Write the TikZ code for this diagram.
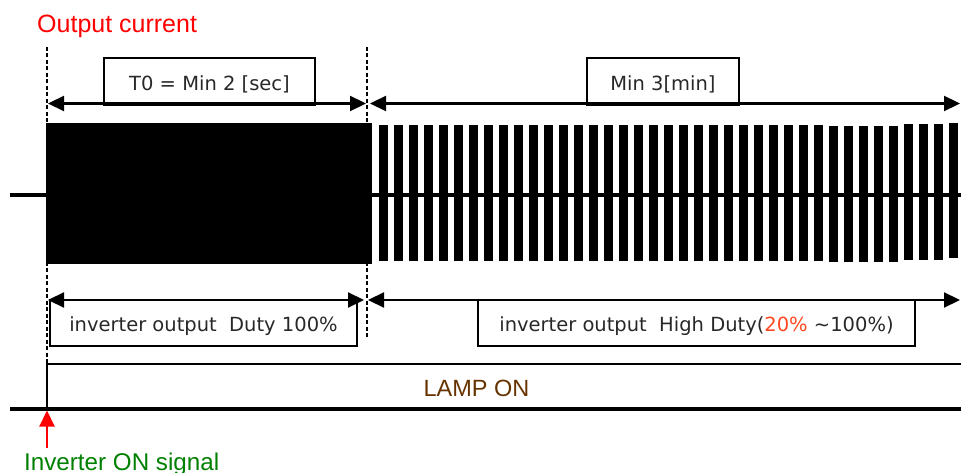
\documentclass[tikz,border=0pt]{standalone}
\usepackage{fontspec}
\setmainfont{Liberation Sans}
\newfontfamily\boxfont{DejaVu Sans}
\usetikzlibrary{arrows.meta}
\definecolor{outred}{RGB}{255,0,0}
\definecolor{sigGreen}{RGB}{0,128,0}
\definecolor{lampbrown}{RGB}{102,51,0}
\definecolor{pctred}{RGB}{255,72,32}
\definecolor{boxtext}{RGB}{40,40,40}
\begin{document}
\begin{tikzpicture}[x=1pt,y=-1pt,
  dimline/.style={line width=2.2pt,{Triangle[length=16pt,width=15pt]}-{Triangle[length=16pt,width=15pt]}},
  guide/.style={line width=1.3pt,dash pattern=on 4pt off 2.5pt},
  lbox/.style={draw,line width=1.7pt,inner sep=0pt,text height=17.5pt,text depth=0pt,
    font=\boxfont\fontsize{19.5}{23}\selectfont,text=boxtext},
  bigtext/.style={inner sep=0pt,font=\fontsize{23.5}{28}\selectfont},
  wave/.style={fill=black}
]
\useasboundingbox (0,0) rectangle (961,473);

% guide coordinates
\coordinate (g1top) at (47,47);
\coordinate (g1bot) at (47,364);
\coordinate (g2top) at (367,47);
\coordinate (g2bot) at (367,338);

% dimension arrow end points
\coordinate (a1l) at (48,103.5);
\coordinate (a1r) at (366,103.5);
\coordinate (a2l) at (370,103.5);
\coordinate (a2r) at (960,103.5);
\coordinate (b1l) at (48,300);
\coordinate (b1r) at (364,300);
\coordinate (b2l) at (368,300);
\coordinate (b2r) at (960,300);

% title
\node[bigtext,font=\fontsize{25}{30}\selectfont,text=outred,anchor=base west] (title) at (37,33) {Output current};

% dashed guides
\draw[guide] (g1top) -- (g1bot);
\draw[guide] (g2top) -- (g2bot);

% top dimension arrows
\draw[dimline] (a1l) -- (a1r);
\draw[dimline] (a2l) -- (a2r);
\node[lbox,minimum width=211pt,minimum height=47pt] (t0box) at (209.5,81.7) {T0 = Min 2 [sec]};
\node[lbox,minimum width=152pt,minimum height=47pt] (minbox) at (663,81.7) {Min 3[min]};

% waveform
\coordinate (axl) at (10,195);
\coordinate (axr) at (961,195);
\draw[line width=3.5pt] (axl) -- (axr);
\fill[wave] (45.5,123.5) rectangle (371.5,264);
\foreach \i in {0,...,29}{
  \fill[wave] ({379.3+15*\i},125) rectangle ++(8.2,135.5);
}
\foreach \i/\t/\b in {30/126/261.5,31/126/261.5,32/126/261.5,33/126/261.5,34/126/261.5,
                      35/124.3/259.7,36/124.3/259.7,37/124.3/259.7,38/123/258.3}{
  \fill[wave] ({379.3+15*\i},\t) rectangle ({387.5+15*\i},\b);
}

% bottom dimension arrows
\draw[dimline] (b1l) -- (b1r);
\draw[dimline] (b2l) -- (b2r);
\node[lbox,minimum width=307pt,minimum height=46pt] (duty100) at (203.5,323) {inverter output\ \ Duty 100\%};
\node[lbox,minimum width=437pt,minimum height=46pt] (highduty) at (696.5,323)
  {inverter output\ \ High Duty(\textcolor{pctred}{20\%} \textasciitilde100\%)};

% lamp signal
\coordinate (lampbase) at (47,409);
\coordinate (lamprise) at (47,364);
\coordinate (lampend) at (961,364);
\coordinate (gndl) at (10,409);
\coordinate (gndr) at (961,409);
\draw[line width=3.2pt] (gndl) -- (gndr);
\draw[line width=2.8pt] (lampbase) -- (lamprise) -- (lampend);
\node[bigtext,text=lampbrown,anchor=base] (lamp) at (476.5,396.5) {LAMP ON};

% inverter ON signal
\coordinate (sigtail) at (47,448);
\coordinate (sigtip) at (47,410.5);
\draw[outred,line width=2.2pt,-{Triangle[length=16pt,width=15pt]}] (sigtail) -- (sigtip);
\node[bigtext,font=\fontsize{24.2}{29}\selectfont,text=sigGreen,anchor=base west] (signal) at (24,470) {Inverter ON signal};
\end{tikzpicture}
\end{document}
